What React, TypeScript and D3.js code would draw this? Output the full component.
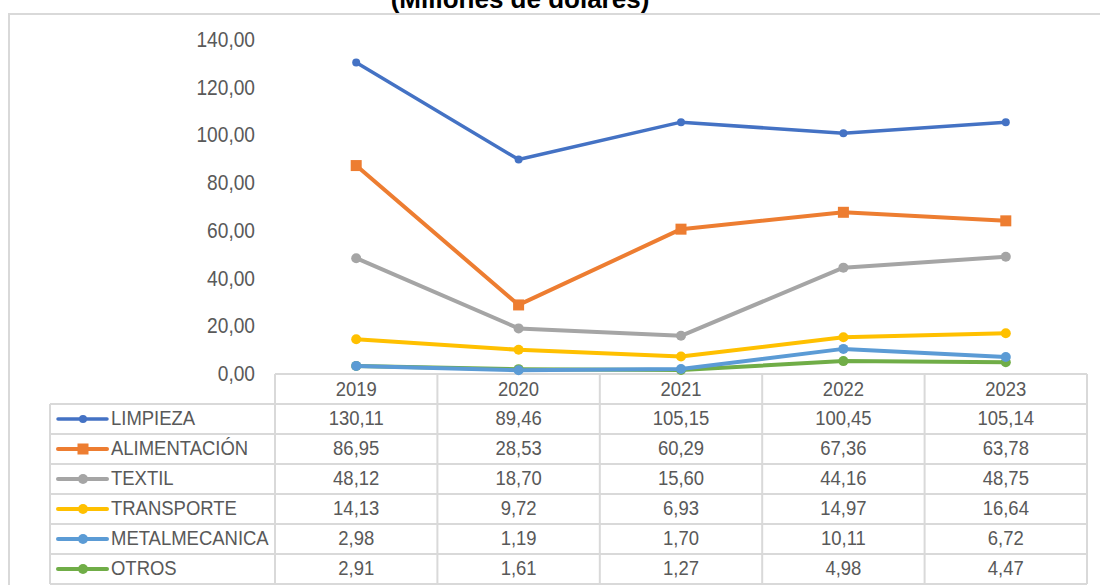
import React, { useEffect, useRef } from 'react';
import * as d3 from 'd3';

const years = ['2019', '2020', '2021', '2022', '2023'];
const seriesNames = ['LIMPIEZA', 'ALIMENTACIÓN', 'TEXTIL', 'TRANSPORTE', 'METALMECANICA', 'OTROS'];
const limpieza = [130.11, 89.46, 105.15, 100.45, 105.14];
const alimentacion = [86.95, 28.53, 60.29, 67.36, 63.78];
const textil = [48.12, 18.7, 15.6, 44.16, 48.75];
const transporte = [14.13, 9.72, 6.93, 14.97, 16.64];
const metalmecanica = [2.98, 1.19, 1.7, 10.11, 6.72];
const otros = [2.91, 1.61, 1.27, 4.98, 4.47];
const yTicks = [0, 20, 40, 60, 80, 100, 120, 140];
const colors = ['#4472C4', '#ED7D31', '#A5A5A5', '#FFC000', '#5B9BD5', '#70AD47'];
const markers = ['smallCircle', 'square', 'circle', 'circle', 'circle', 'circle'];

const FONT = '"Liberation Sans", Arial, sans-serif';
const fmt = (v: number) => v.toFixed(2).replace('.', ',');

const App = () => {
    const svgRef = useRef<SVGSVGElement>(null);

    useEffect(() => {
        const width = 1100;
        const height = 585;
        const svg = d3.select(svgRef.current);
        svg.selectAll('*').remove();
        svg.attr('width', width).attr('height', height);

        const allValues = [limpieza, alimentacion, textil, transporte, metalmecanica, otros];
        const tableLeft = 50;
        const plotLeft = 275;
        const plotRight = 1087;
        const tableTop = 374;
        const rowH = 30;

        // the source font is condensed, so squeeze the text horizontally
        const place = (x: number, y: number, sx = 0.88) => `translate(${x},${y}) scale(${sx},1)`;

        // outer chart border
        svg.append('rect')
            .attr('x', 9).attr('y', 14)
            .attr('width', 1200).attr('height', 700)
            .attr('fill', 'white')
            .attr('stroke', '#d9d9d9').attr('stroke-width', 2);

        svg.append('text')
            .attr('x', 520).attr('y', 8)
            .attr('text-anchor', 'middle')
            .attr('font-family', FONT)
            .attr('font-weight', 'bold')
            .attr('font-size', 26)
            .attr('fill', '#000')
            .text('(Millones de dólares)');

        const xScale = d3.scaleBand()
            .domain(years)
            .range([plotLeft, plotRight]);
        const yScale = d3.scaleLinear()
            .domain([0, 140])
            .range([373, 39]);

        // y labels
        svg.append('g').selectAll('text')
            .data(yTicks)
            .enter().append('text')
            .attr('transform', d => place(255, yScale(d), 0.87))
            .attr('dy', '0.36em')
            .attr('text-anchor', 'end')
            .attr('font-family', FONT)
            .attr('font-size', 22)
            .attr('fill', '#595959')
            .text(d => fmt(d));

        // table grid
        const grid = svg.append('g')
            .attr('stroke', '#d9d9d9')
            .attr('stroke-width', 2)
            .attr('fill', 'none');
        grid.append('line')
            .attr('x1', plotLeft).attr('x2', plotRight)
            .attr('y1', tableTop).attr('y2', tableTop);
        for (let r = 1; r <= seriesNames.length + 1; r++) {
            grid.append('line')
                .attr('x1', tableLeft).attr('x2', plotRight)
                .attr('y1', tableTop + r * rowH).attr('y2', tableTop + r * rowH);
        }
        grid.append('line')
            .attr('x1', tableLeft).attr('x2', tableLeft)
            .attr('y1', tableTop + rowH).attr('y2', tableTop + rowH * 7);
        years.forEach(y => {
            grid.append('line')
                .attr('x1', xScale(y)).attr('x2', xScale(y))
                .attr('y1', tableTop).attr('y2', tableTop + rowH * 7);
        });
        grid.append('line')
            .attr('x1', plotRight).attr('x2', plotRight)
            .attr('y1', tableTop).attr('y2', tableTop + rowH * 7);

        const cx = (y: string) => xScale(y) + xScale.bandwidth() / 2;

        // year header
        svg.append('g').selectAll('text')
            .data(years)
            .enter().append('text')
            .attr('transform', d => place(cx(d), tableTop + rowH / 2))
            .attr('dy', '0.34em')
            .attr('text-anchor', 'middle')
            .attr('font-family', FONT)
            .attr('font-size', 21)
            .attr('fill', '#595959')
            .text(d => d);

        const drawMarker = (g: any, kind: string, x: number, y: number, color: string) => {
            if (kind === 'square') {
                g.append('rect')
                    .attr('x', x - 5.5).attr('y', y - 5.5)
                    .attr('width', 11).attr('height', 11)
                    .attr('fill', color);
            } else {
                g.append('circle')
                    .attr('cx', x).attr('cy', y)
                    .attr('r', kind === 'smallCircle' ? 4 : 5)
                    .attr('fill', color);
            }
        };

        const line = d3.line<number>()
            .x((d, i) => cx(years[i]))
            .y(d => yScale(d));

        // lines, bottom series first
        for (let s = allValues.length - 1; s >= 0; s--) {
            const g = svg.append('g');
            g.append('path')
                .attr('d', line(allValues[s]))
                .attr('fill', 'none')
                .attr('stroke', colors[s])
                .attr('stroke-width', s === 0 ? 3.5 : 4)
                .attr('stroke-linejoin', 'round')
                .attr('stroke-linecap', 'round');
            allValues[s].forEach((v, i) => drawMarker(g, markers[s], cx(years[i]), yScale(v), colors[s]));
        }

        // table rows
        seriesNames.forEach((name, s) => {
            const rowY = tableTop + rowH * (s + 1) + rowH / 2;
            const g = svg.append('g');
            g.append('line')
                .attr('x1', 58).attr('x2', 107)
                .attr('y1', rowY).attr('y2', rowY)
                .attr('stroke', colors[s])
                .attr('stroke-width', s === 0 ? 3.5 : 4)
                .attr('stroke-linecap', 'round');
            drawMarker(g, markers[s], 83, rowY, colors[s]);
            g.append('text')
                .attr('transform', place(111, rowY))
                .attr('dy', '0.3em')
                .attr('font-family', FONT)
                .attr('font-size', 21)
                .attr('fill', '#595959')
                .text(name);
            g.selectAll('text.val')
                .data(allValues[s])
                .enter().append('text')
                .attr('class', 'val')
                .attr('transform', (d, i) => place(cx(years[i]), rowY))
                .attr('dy', '0.3em')
                .attr('text-anchor', 'middle')
                .attr('font-family', FONT)
                .attr('font-size', 21)
                .attr('fill', '#595959')
                .text(d => fmt(d));
        });
    }, []);

    return (
        <svg ref={svgRef} style={{ position: 'absolute', left: 0, top: 0 }}></svg>
    );
};

export default App;
